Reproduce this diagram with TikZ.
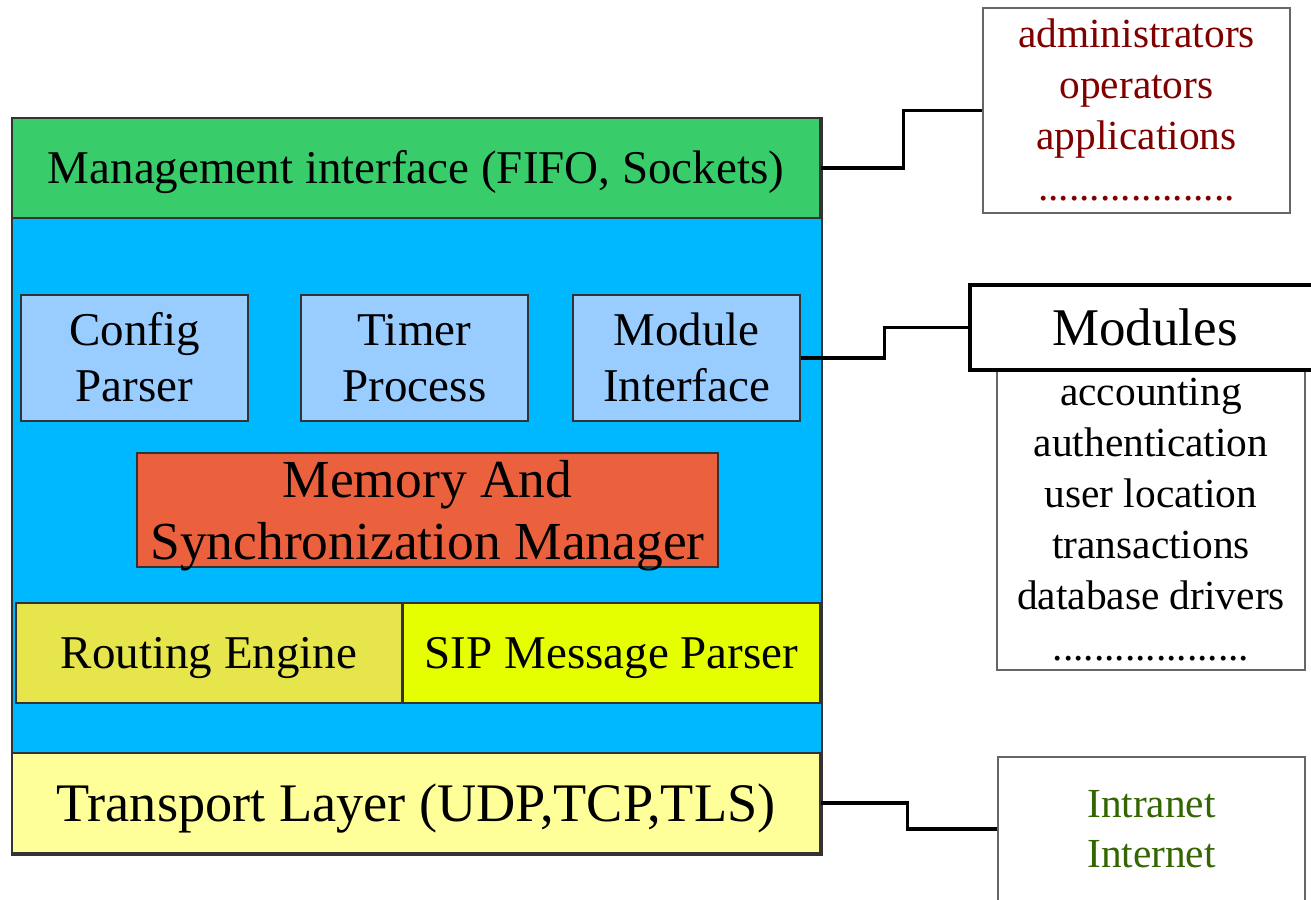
\documentclass[tikz,border=0pt]{standalone}
\usepackage{fontspec}
\setmainfont{Liberation Serif}
\newcommand\lostrut{\rule[-0.216em]{0pt}{1.107em}}
\definecolor{cblue}{RGB}{0,184,255}
\definecolor{cgreen}{RGB}{56,204,106}
\definecolor{clight}{RGB}{153,204,255}
\definecolor{cmem}{RGB}{235,97,61}
\definecolor{croute}{RGB}{230,230,76}
\definecolor{csip}{RGB}{230,255,0}
\definecolor{ctrans}{RGB}{255,255,153}
\definecolor{cdred}{RGB}{128,0,0}
\definecolor{cdgreen}{RGB}{51,102,0}
\begin{document}
\begin{tikzpicture}[x=1pt,y=-1pt,
  blk/.style={draw=black!80, line width=1.2pt, inner sep=0pt, align=center},
  side/.style={draw=black!60, line width=1.4pt, fill=white, inner sep=0pt, align=center},
  conn/.style={draw=black, line width=3.5pt, line join=miter},
  fbig/.style={font={\fontsize{47}{56}\selectfont}},
  fsmall/.style={font={\fontsize{41.4}{51}\selectfont}}]
\useasboundingbox (0,0) rectangle (1311,899);
\clip (0,0) rectangle (1311,899);

% core block
\node[blk, fill=cblue, minimum width=810pt, minimum height=737pt] (core) at (417,486.5) {};
\node[blk, fill=cgreen, minimum width=808pt, minimum height=100pt, fbig] (mgmt) at (416,168)
  {\lostrut Management interface (FIFO, Sockets)};
\node[blk, fill=clight, minimum width=227pt, minimum height=126pt, fbig] (cfg) at (134.5,358)
  {\lostrut Config\\\lostrut Parser};
\node[blk, fill=clight, minimum width=227pt, minimum height=126pt, fbig] (timer) at (414.5,358)
  {\lostrut Timer\\\lostrut Process};
\node[blk, fill=clight, minimum width=227pt, minimum height=126pt, fbig] (modif) at (686.5,358)
  {\lostrut Module\\\lostrut Interface};
\node[blk, fill=cmem, minimum width=581pt, minimum height=114pt] (mem) at (427.5,510) {};
\node[inner sep=0pt, align=center, font={\fontsize{53.5}{62}\selectfont}] (memtext) at (mem.center)
  {\lostrut Memory And\\\lostrut Synchronization Manager};
\node[blk, fill=croute, minimum width=386pt, minimum height=100pt, fbig] (route) at (209,653)
  {\lostrut Routing Engine};
\node[blk, fill=csip, minimum width=417pt, minimum height=100pt, fbig] (sip) at (611.5,653)
  {\lostrut SIP Message Parser};
\node[blk, fill=ctrans, minimum width=808pt, minimum height=100pt, font={\fontsize{54.3}{62}\selectfont}] (trans) at (416,803)
  {\lostrut Transport Layer (UDP,TCP,TLS)};

% side boxes
\node[side, minimum width=307pt, minimum height=205pt, fsmall, text=cdred] (users) at (1136.5,110.5)
  {\lostrut administrators\\\lostrut operators\\\lostrut applications\\\lostrut ...................};
\node[side, minimum width=308pt, minimum height=299pt, fsmall] (modlist) at (1151,519.5)
  {\lostrut accounting\\\lostrut authentication\\\lostrut user location\\\lostrut transactions\\\lostrut database drivers\\\lostrut ...................};
\node[draw=black, line width=3.5pt, fill=white, inner sep=0pt, minimum width=350pt, minimum height=85pt,
  font={\fontsize{53}{62}\selectfont}] (modhdr) at (1145,327.5) {\lostrut Modules};
\node[side, minimum width=307pt, minimum height=144pt, font={\fontsize{41.3}{50}\selectfont}, text=cdgreen] (net) at (1151.5,829)
  {\lostrut Intranet\\\lostrut Internet};

% connectors
\draw[conn] (mgmt.east) -- ++(83,0) |- (users.west);
\draw[conn] (modif.east) -- ++(84,0) |- (modhdr.west);
\draw[conn] (trans.east) -- ++(87,0) |- (net.west);
\end{tikzpicture}
\end{document}
